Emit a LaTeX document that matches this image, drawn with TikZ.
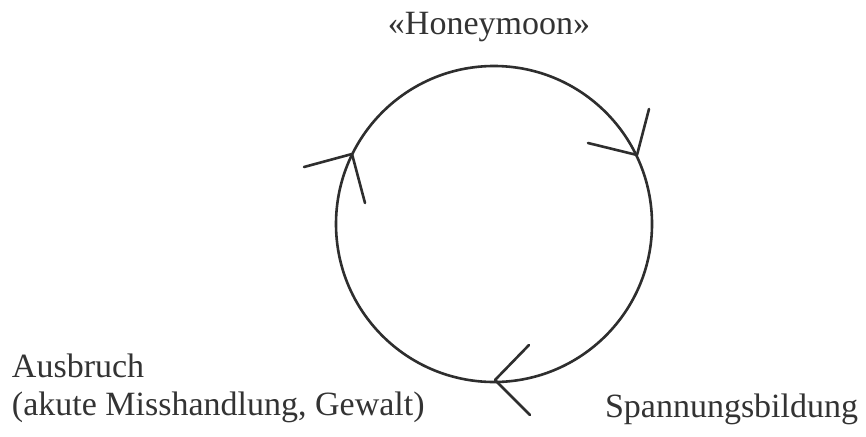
\documentclass[tikz,border=0pt]{standalone}
\usepackage{fontspec}
\setmainfont{Liberation Serif}
\begin{document}
\begin{tikzpicture}[x=1pt,y=-1pt,
  ink/.style={draw=black!82, line width=2.6pt, line cap=round, line join=round},
  lbl/.style={inner sep=0pt, outer sep=0pt, text=black!80, font=\fontsize{34}{38}\selectfont}]
\useasboundingbox (0,0) rectangle (866,436);
\fill[white] (0,0) rectangle (866,436);
% cycle
\node[ink, circle, minimum size=316pt, inner sep=0pt] (cyc) at (494,224) {};
% chevron arrowheads (clockwise)
\coordinate (t1) at (637,155);
\coordinate (t1a) at (588,143);
\coordinate (t1b) at (649,109);
\coordinate (t2) at (352,154);
\coordinate (t2a) at (304,167);
\coordinate (t2b) at (365,203);
\coordinate (t3) at (495,380);
\coordinate (t3a) at (529,345);
\coordinate (t3b) at (530,415);
\draw[ink] (t1a) -- (t1) -- (t1b);
\draw[ink] (t2a) -- (t2) -- (t2b);
\draw[ink] (t3a) -- (t3) -- (t3b);
% labels
\node[lbl, anchor=base] (hm) at (489,35) {«Honeymoon»};
\node[lbl, anchor=base west] (ab1) at (12,377) {Ausbruch};
\node[lbl, anchor=base west] (ab2) at (12,415) {(akute Misshandlung, Gewalt)};
\node[lbl, anchor=base west] (sp) at (605,417) {Spannungsbildung};
\end{tikzpicture}
\end{document}
